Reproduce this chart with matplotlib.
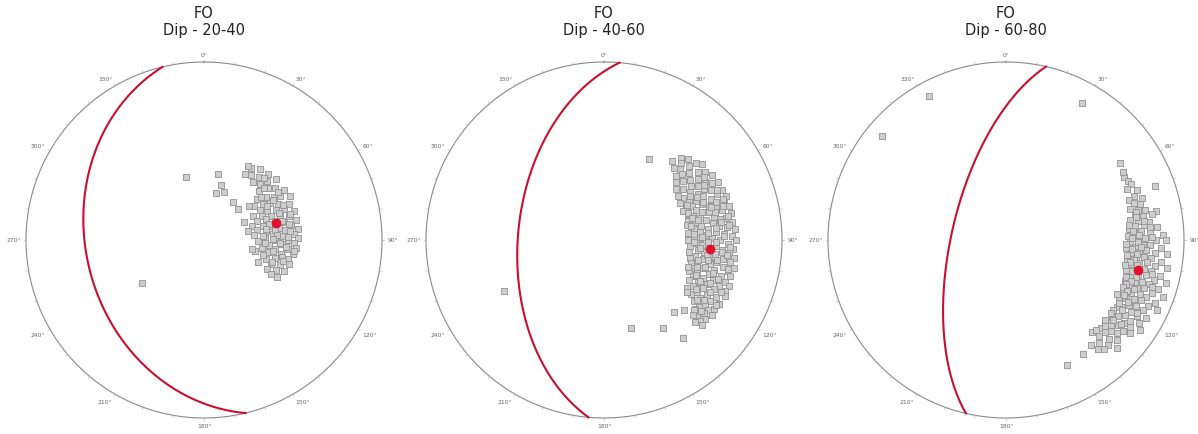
import numpy as np
import matplotlib
matplotlib.use("Agg")
import matplotlib.pyplot as plt

poles_20_40 = [
    (33, 50), (36, 53), (38, 48), (41, 51), (40, 55), (44, 47), (45, 53),
    (47, 50), (48, 56), (50, 46), (51, 52), (52, 59), (54, 49), (55, 55), (56, 62), (53, 64),
    (58, 46), (58, 52), (59, 58), (60, 49), (61, 55), (62, 61), (63, 45), (64, 52), (64, 65), (65, 58),
    (67, 47), (67, 54), (68, 61), (69, 50), (70, 57), (70, 64), (72, 46), (72, 53), (73, 60), (74, 67),
    (74, 49), (75, 56), (77, 52), (77, 62), (78, 46), (78, 58), (79, 65), (80, 49), (81, 55), (82, 61),
    (83, 46), (83, 52), (84, 67), (85, 58), (86, 48), (87, 54), (88, 62), (89, 46), (90, 51), (90, 57),
    (91, 65), (92, 48), (93, 54), (94, 60), (95, 47), (96, 51), (97, 57), (98, 63), (99, 48), (100, 54),
    (101, 60), (102, 66), (103, 50), (104, 56), (106, 49), (107, 60), (108, 53), (110, 57), (111, 50),
    (113, 54), (115, 58), (117, 52),
    (62, 57), (66, 50), (70, 53), (71, 60), (73, 48), (76, 59), (76, 53), (79, 50), (80, 61), (82, 57),
    (84, 50), (86, 56), (86, 63), (88, 51), (89, 58), (92, 55), (93, 62), (95, 52), (97, 48), (99, 58),
    (102, 53), (104, 62), (105, 52), (108, 57), (57, 49), (60, 53), (53, 57), (49, 53), (44, 50),
    (344, 60), (12, 59), (17, 63.5), (14, 68), (23, 66), (37, 68), (48, 69), (65, 70), (78, 69.5),
    (101, 67.6), (112, 63), (117, 55), (31, 50), (32, 54), (235, 55),
]

poles_40_60 = [
    (41, 41), (43, 37), (44, 43), (45, 39),
    (46, 35), (47, 41), (48, 45), (49, 37), (50, 33), (50, 42),
    (51, 47), (52, 39), (52, 31), (53, 44), (54, 35), (55, 49), (55, 41),
    (56, 32), (57, 37), (57, 46), (58, 42), (59, 30), (59, 50), (60, 35), (60, 39),
    (61, 44), (62, 48), (62, 32), (63, 37), (63, 29), (64, 41), (64, 51), (65, 46), (65, 34),
    (66, 39), (67, 29), (67, 43), (68, 49), (68, 32), (69, 36), (69, 46), (70, 41), (70, 28), (70, 51),
    (71, 34), (72, 38), (72, 45), (73, 30), (73, 49), (74, 42), (74, 35), (75, 28), (75, 47), (75, 39),
    (76, 32), (77, 44), (77, 50), (78, 37), (78, 28), (79, 41), (79, 47), (80, 34), (80, 31), (80, 51),
    (81, 38), (82, 44), (82, 28), (83, 48), (83, 35), (84, 41), (84, 31), (85, 45), (85, 51), (85, 27),
    (86, 37), (87, 33), (87, 42), (88, 48), (88, 29), (89, 39), (89, 45), (90, 35), (90, 51), (90, 27),
    (91, 41), (92, 31), (92, 47), (93, 37), (93, 44), (94, 28), (94, 50), (95, 34), (95, 40),
    (96, 46), (96, 30), (97, 37), (97, 43), (98, 27), (98, 50), (99, 33), (99, 40), (100, 47), (100, 29),
    (101, 36), (101, 43), (102, 26), (102, 49), (103, 32), (103, 39), (104, 45), (104, 29), (105, 36), (105, 48),
    (106, 42), (106, 27), (107, 32), (107, 46), (108, 38), (109, 29), (109, 44), (110, 35), (110, 48), (110, 26),
    (111, 40), (112, 31), (112, 45), (113, 27), (113, 37), (114, 42), (114, 33), (115, 46), (115, 26),
    (116, 38), (117, 30), (117, 43), (118, 35), (119, 27), (119, 40), (120, 32), (120, 45),
    (121, 37), (122, 28), (122, 42), (123, 33), (124, 39), (124, 30), (125, 27), (125, 35),
    (126, 31), (127, 36), (128, 29), (129, 33), (130, 30), (131, 28), (132, 32),
    (58, 34), (61, 36), (63, 45), (66, 31), (67, 48), (71, 30), (72, 49), (74, 31), (76, 36), (76, 48),
    (78, 45), (81, 34), (81, 49), (83, 30), (86, 41), (86, 48), (88, 33), (91, 37), (91, 48), (93, 30),
    (95, 45), (96, 34), (98, 41), (100, 36), (102, 45), (103, 29), (105, 41), (107, 36), (108, 49), (109, 33),
    (111, 44), (112, 36), (114, 29), (116, 34), (118, 41), (120, 28), (121, 35), (123, 38), (126, 33), (128, 36),
    (65, 42), (69, 40), (73, 37), (79, 30), (84, 37), (88, 44), (97, 31), (101, 40), (106, 45), (113, 41),
    (29, 47), (243, 37), (163, 47), (146, 40), (141, 30), (136, 43), (131, 40), (122, 44), (130, 35),
]

poles_60_80 = [
    (56, 24), (62, 26), (60, 25), (64, 25), (66, 24), (67, 27), (70, 12), (69, 22),
    (71, 25), (72, 28), (73, 21), (74, 26), (75, 23),
    (76, 29), (77, 25), (78, 21), (79, 15), (79, 27), (80, 23), (80, 18),
    (81, 30), (82, 26), (83, 20), (84, 28), (84, 23), (85, 16), (85, 31),
    (86, 25), (87, 29), (87, 20), (88, 13), (88, 32), (89, 23), (90, 27), (90, 17), (90, 11),
    (91, 31), (92, 24), (92, 20), (93, 28), (93, 14), (94, 33), (94, 22), (95, 26), (95, 17), (95, 10),
    (96, 30), (97, 23), (97, 19), (98, 27), (98, 13), (99, 32), (99, 21), (100, 25), (100, 16), (100, 9),
    (101, 29), (102, 22), (102, 18), (103, 26), (103, 12), (104, 31), (104, 20), (105, 24), (105, 15), (105, 8),
    (106, 28), (107, 21), (107, 17), (108, 25), (108, 11), (109, 30), (109, 19), (110, 23), (110, 14), (110, 7),
    (111, 27), (112, 20), (112, 16), (113, 25), (113, 10), (114, 29), (114, 18), (115, 22), (115, 13), (115, 7),
    (116, 26), (117, 19), (117, 15), (118, 29), (118, 23), (119, 11), (120, 20), (120, 16), (120, 26),
    (121, 28), (122, 22), (122, 13), (123, 18), (124, 25), (124, 10), (125, 20), (125, 16),
    (126, 27), (127, 22), (127, 14), (128, 18), (129, 25), (130, 20), (130, 28),
    (131, 23), (132, 17), (133, 28), (134, 21), (134, 14), (136, 26), (136, 19), (137, 30), (138, 23),
    (78, 26), (80, 27), (82, 23), (83, 31), (86, 29), (88, 26), (89, 30), (91, 27), (92, 33), (93, 25),
    (94, 30), (96, 27), (97, 32), (99, 28), (100, 30), (101, 26), (102, 32), (104, 28), (106, 25), (107, 30),
    (108, 27), (110, 29), (111, 24), (112, 30), (113, 27), (115, 28), (116, 31), (117, 24), (119, 28), (121, 25),
    (123, 29), (125, 29), (127, 26), (129, 29), (131, 27), (133, 25), (135, 29), (85, 20), (89, 19), (103, 17),
    (108, 15), (119, 17), (126, 21),
    (140, 21), (141, 25), (146, 24), (154, 23), (138, 19),
    (332, 9), (310, 10), (29, 13),
]

titles = ["Dip - 20-40", "Dip - 40-60", "Dip - 60-80"]
all_poles = [poles_20_40, poles_40_60, poles_60_80]
# mean pole of each set (trend, plunge)
mean_poles = [(76.5, 56), (95, 40), (103, 25)]
tick_angles = list(range(0, 360, 30))


def project(trend, plunge):
    # Schmidt (equal-area) net, unit primitive circle
    tr = np.radians(trend)
    th = np.radians(90 - np.asarray(plunge, dtype=float))
    r = np.sqrt(2) * np.sin(th / 2)
    return r * np.sin(tr), r * np.cos(tr)


def plane_from_pole(trend, plunge):
    tr, pl = np.radians(trend), np.radians(plunge)
    strike = np.array([np.sin(tr + np.pi / 2), np.cos(tr + np.pi / 2), 0.0])
    dd, dip = tr + np.pi, np.pi / 2 - pl
    down = np.array([np.sin(dd) * np.cos(dip), np.cos(dd) * np.cos(dip), np.sin(dip)])
    t = np.linspace(0, np.pi, 300)
    v = np.outer(np.cos(t), strike) + np.outer(np.sin(t), down)
    z = np.clip(v[:, 2], 0, 1)
    return v[:, 0] / np.sqrt(1 + z), v[:, 1] / np.sqrt(1 + z)


W, H = 1198, 435
R = 178
centers = [204, 604, 1006]
cy = 241
S = 1.12 * R

fig = plt.figure(figsize=(W / 100, H / 100), dpi=100)

for cx, title, poles, mp in zip(centers, titles, all_poles, mean_poles):
    ax = fig.add_axes([(cx - S) / W, (H - cy - S) / H, 2 * S / W, 2 * S / H])
    ax.set_xlim(-1.12, 1.12)
    ax.set_ylim(-1.12, 1.12)
    ax.axis("off")

    a = np.linspace(0, 2 * np.pi, 400)
    ax.plot(np.sin(a), np.cos(a), color="#8a8a8a", lw=0.8, zorder=1)

    for deg in range(0, 360, 10):
        s, c = np.sin(np.radians(deg)), np.cos(np.radians(deg))
        ax.plot([0.998 * s, 1.012 * s], [0.998 * c, 1.012 * c], color="#b0b0b0", lw=0.5, zorder=1)

    for deg in tick_angles:
        s, c = np.sin(np.radians(deg)), np.cos(np.radians(deg))
        ha = "left" if s > 0.3 else ("right" if s < -0.3 else "center")
        va = "bottom" if c > 0.3 else ("top" if c < -0.3 else "center")
        ax.text(1.03 * s, 1.03 * c, f"{deg}°", fontsize=4.3, color="#666666",
                ha=ha, va=va, clip_on=False)

    tr, pl = zip(*poles)
    x, y = project(tr, pl)
    ax.scatter(x, y, marker="s", s=23, facecolor="#cdcdcd", edgecolor="#929292",
               linewidths=0.6, zorder=3)

    gx, gy = plane_from_pole(*mp)
    ax.plot(gx, gy, color="#c8102e", lw=1.5, zorder=4)

    mx, my = project(mp[0], mp[1])
    ax.scatter([mx], [my], s=42, color="#e8112d", edgecolor="#d0102a", linewidths=0.5, zorder=5)

    fig.text(cx / W, 1 - 13 / H, "FO", ha="center", va="center", fontsize=10.5, color="#222222")
    fig.text(cx / W, 1 - 31 / H, title, ha="center", va="center", fontsize=10.5, color="#222222")

fig.savefig("out.png", dpi=100)
